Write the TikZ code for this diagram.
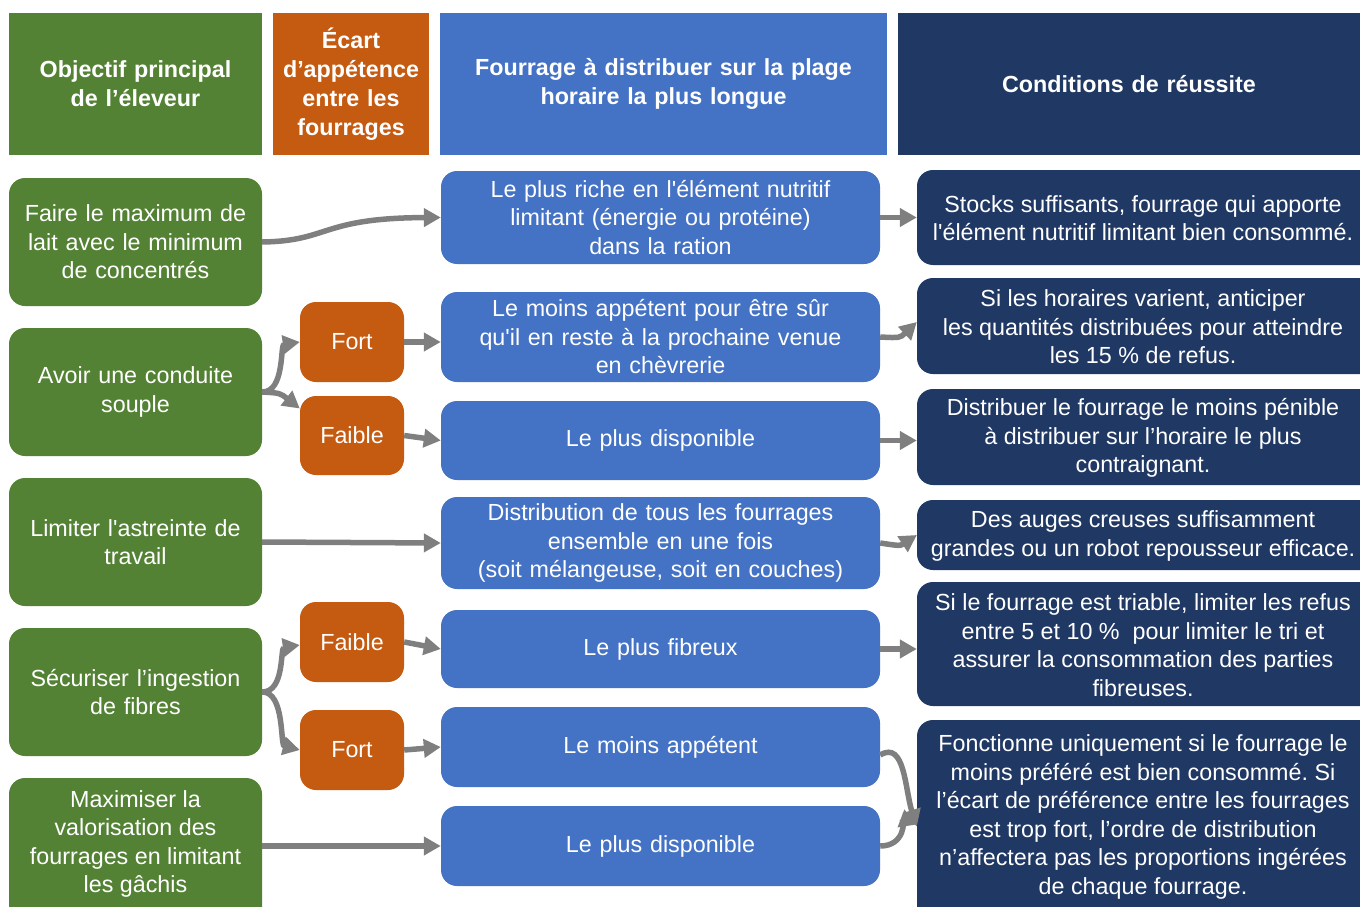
\documentclass[tikz,border=0pt]{standalone}
\usepackage{fontspec}
\setmainfont{Liberation Sans}[Ligatures=TeXOff]
\frenchspacing
\usetikzlibrary{arrows.meta}
\definecolor{cgreen}{HTML}{548235}
\definecolor{corange}{HTML}{C55A11}
\definecolor{cblue}{HTML}{4472C4}
\definecolor{cnavy}{HTML}{203864}
\definecolor{carrow}{HTML}{7F7F7F}
\tikzset{
  box/.style={rounded corners=16pt, inner sep=0pt, align=center, text=white,
    font=\fontsize{23.3}{28.5}\selectfont},
  hdr/.style={inner sep=0pt, align=center, text=white,
    font=\fontsize{23.3}{29}\selectfont\bfseries},
  conn/.style={draw=carrow, line width=5.5pt, -{Triangle[length=17pt,width=18pt]}},
}
% \mybox{name}{style}{color}{x1}{y1}{x2}{y2}{text}
\newcommand{\mybox}[8]{%
  \pgfmathsetmacro{\bw}{#6-#4}\pgfmathsetmacro{\bh}{#7-#5}%
  \pgfmathsetmacro{\tw}{#6-#4-4}%
  \node[#2, fill=#3, minimum width=\bw pt, minimum height=\bh pt, text width=\tw pt]
    (#1) at ({(#4+#6)/2},{(#5+#7)/2}) {#8};}
\begin{document}
\begin{tikzpicture}[x=1pt,y=-1pt]
\useasboundingbox (0,0) rectangle (1360,907);
% headers
\mybox{h1}{hdr}{cgreen}{9}{13}{262}{155}{Objectif principal\\de l’éleveur}
\mybox{h2}{hdr}{corange}{273}{13}{429}{155}{Écart\\d’appétence\\entre les\\fourrages}
\mybox{h3}{hdr}{cblue}{440}{13}{887}{155}{Fourrage à distribuer sur la plage\\horaire la plus longue}
\mybox{h4}{hdr}{cnavy}{898}{13}{1360}{155}{Conditions de réussite}
% column 1
\mybox{g1}{box}{cgreen}{9}{178}{262}{306}{Faire le maximum de\\lait avec le minimum\\de concentrés}
\mybox{g2}{box}{cgreen}{9}{328}{262}{456}{Avoir une conduite\\souple}
\mybox{g3}{box}{cgreen}{9}{478}{262}{606}{Limiter l'astreinte de\\travail}
\mybox{g4}{box}{cgreen}{9}{628}{262}{756}{Sécuriser l’ingestion\\de fibres}
\mybox{g5}{box}{cgreen}{9}{778}{262}{935}{}
\node[box, anchor=center] (g5t) at (135.5,844) {Maximiser la\\valorisation des\\fourrages en limitant\\les gâchis};
% column 2
\mybox{o1}{box}{corange}{300}{302}{404}{382}{Fort}
\mybox{o2}{box}{corange}{300}{396}{404}{475}{Faible}
\mybox{o3}{box}{corange}{300}{602}{404}{682}{Faible}
\mybox{o4}{box}{corange}{300}{710}{404}{790}{Fort}
% column 3
\mybox{b1}{box}{cblue}{441}{171}{880}{264}{Le plus riche en l'élément nutritif\\limitant (énergie ou protéine)\\dans la ration}
\mybox{b2}{box}{cblue}{441}{292}{880}{382}{Le moins appétent pour être sûr\\qu'il en reste à la prochaine venue\\en chèvrerie}
\mybox{b3}{box}{cblue}{441}{401}{880}{480}{Le plus disponible}
\mybox{b4}{box}{cblue}{441}{497}{880}{589}{Distribution de tous les fourrages\\ensemble en une fois\\(soit mélangeuse, soit en couches)}
\mybox{b5}{box}{cblue}{441}{610}{880}{688}{Le plus fibreux}
\mybox{b6}{box}{cblue}{441}{707}{880}{787}{Le moins appétent}
\mybox{b7}{box}{cblue}{441}{806}{880}{886}{Le plus disponible}
% column 4
\mybox{n1}{box}{cnavy}{917}{170}{1376}{265}{}
\node[box] (n1t) at (1143,218) {Stocks suffisants, fourrage qui apporte\\l'élément nutritif limitant bien consommé.};
\mybox{n2}{box}{cnavy}{917}{278}{1376}{374}{}
\node[box] (n2t) at (1143,327) {Si les horaires varient, anticiper\\les quantités distribuées pour atteindre\\les 15 \% de refus.};
\mybox{n3}{box}{cnavy}{917}{389}{1376}{485}{}
\node[box] (n3t) at (1143,438) {Distribuer le fourrage le moins pénible\\à distribuer sur l’horaire le plus\\contraignant.};
\mybox{n4}{box}{cnavy}{917}{500}{1376}{570}{}
\node[box] (n4t) at (1143,536) {Des auges creuses suffisamment\\grandes ou un robot repousseur efficace.};
\mybox{n5}{box}{cnavy}{917}{582}{1376}{706}{}
\node[box] (n5t) at (1143,645) {Si le fourrage est triable, limiter les refus\\entre 5 et 10 \%~ pour limiter le tri et\\assurer la consommation des parties\\fibreuses.};
\mybox{n6}{box}{cnavy}{917}{720}{1376}{925}{}
\node[box] (n6t) at (1143,817) {Fonctionne uniquement si le fourrage le\\moins préféré est bien consommé. Si\\l’écart de préférence entre les fourrages\\est trop fort, l’ordre de distribution\\n’affectera pas les proportions ingérées\\de chaque fourrage.};
% connectors
\draw[conn] (g1.east) .. controls (330,241) and (320,218) .. (b1.west);
\draw[conn] (g2.east) .. controls (285,392) and (280,345) .. (o1.west);
\draw[conn] (g2.east) .. controls (280,393) .. ([yshift=27pt]o2.west);
\draw[conn] (o1.east) -- (b2.west |- o1.east);
\draw[conn] (o2.east) -- (b3.west);
\draw[conn] (g3.east) -- (b4.west);
\draw[conn] (g4.east) .. controls (285,692) and (280,648) .. ([yshift=-3pt]o3.west);
\draw[conn] (g4.east) .. controls (285,692) and (280,745) .. (o4.west);
\draw[conn] (o3.east) -- (b5.west);
\draw[conn] (o4.east) -- (b6.west);
\draw[conn] (g5.east |- b7.west) -- (b7.west);
\draw[conn] (b1.east) -- (n1.west |- b1.east);
\draw[conn] (b2.east) .. controls (900,338) .. ([yshift=4pt]n2.west);
\draw[conn] (b3.east) -- (n3.west |- b3.east);
\draw[conn] (b4.east) .. controls (900,546) .. (n4.west);
\draw[conn] (b5.east) -- (n5.west |- b5.east);
\draw[conn] ([yshift=-8pt]b6.east) .. controls (905,740) and (905,790) .. ([yshift=-4pt]n6.west);
\draw[conn] (b7.east) .. controls (905,846) and (905,820) .. ([yshift=-2pt]n6.west);
\end{tikzpicture}
\end{document}
